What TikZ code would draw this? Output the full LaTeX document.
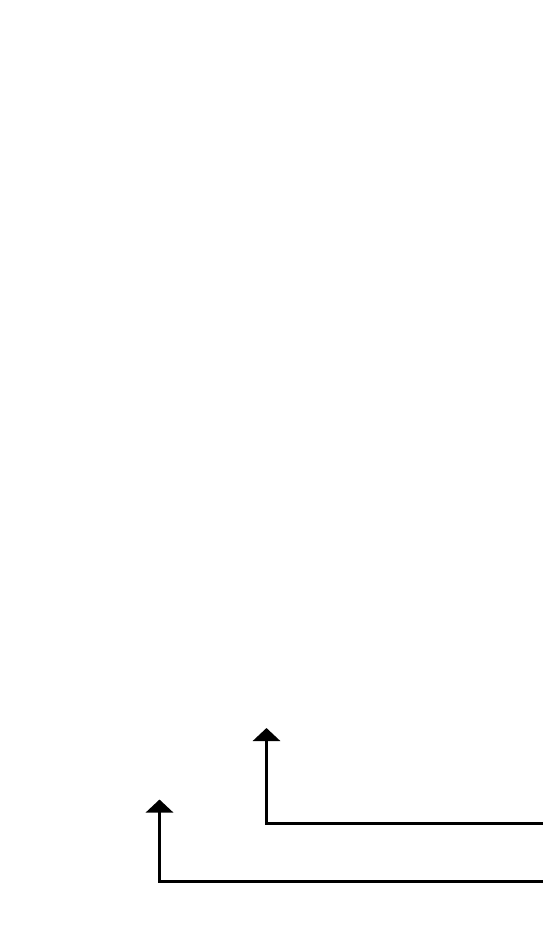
\documentclass[tikz,border=0pt]{standalone}
\usetikzlibrary{arrows.meta}
\begin{document}
\begin{tikzpicture}[x=1pt,y=-1pt,
  conn/.style={line width=3pt,-{Triangle[length=13pt,width=27pt]},line join=miter}]
\useasboundingbox[fill=white] (0,0) rectangle (543,937);
\coordinate (s1) at (546,823.5);
\coordinate (c1) at (266.5,823.5);
\coordinate (t1) at (266.5,728);
\coordinate (s2) at (546,881.5);
\coordinate (c2) at (159.5,881.5);
\coordinate (t2) at (159.5,799.5);
\draw[conn] (s1) -- (c1) -- (t1);
\draw[conn] (s2) -- (c2) -- (t2);
\end{tikzpicture}
\end{document}
